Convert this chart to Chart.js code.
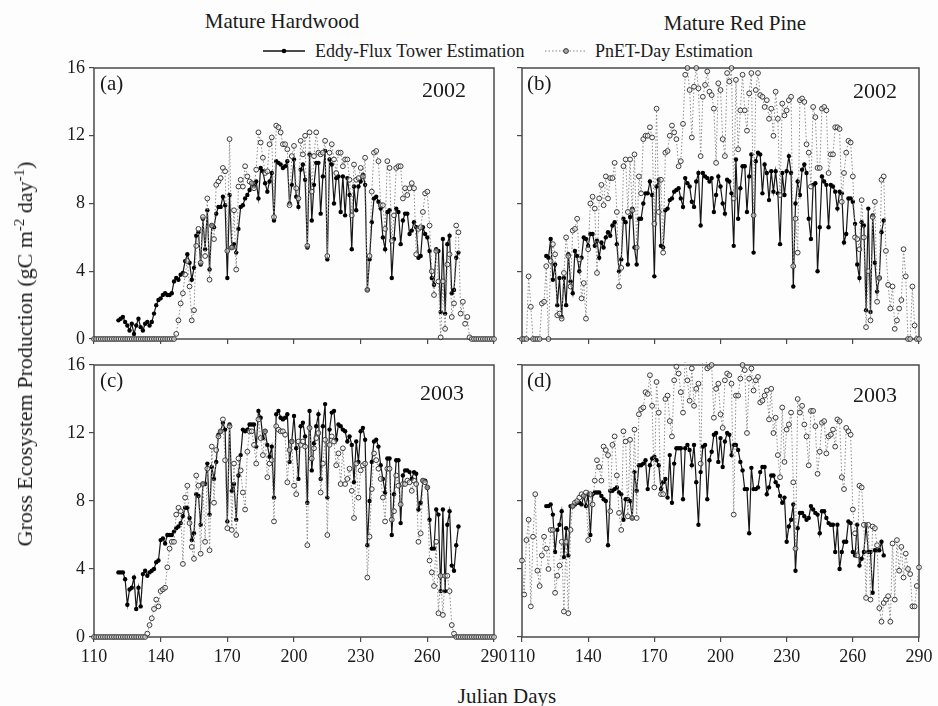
<!DOCTYPE html>
<html><head><meta charset="utf-8">
<script src="https://cdn.jsdelivr.net/npm/chart.js@4/dist/chart.umd.min.js"></script>
<style>
html,body{margin:0;padding:0;background:#fdfdfd;width:938px;height:706px;overflow:hidden;font-family:"Liberation Serif","Times New Roman",serif;color:#1a1a1a;}
canvas{position:absolute;}
.t{position:absolute;white-space:nowrap;line-height:1;}
sup{font-size:0.68em;vertical-align:0.55em;line-height:0;}
</style></head><body>
<div class="t" style="left:282px;top:11px;font-size:21px;transform:translateX(-50%)">Mature Hardwood</div>
<div class="t" style="left:735px;top:13px;font-size:21px;transform:translateX(-50%)">Mature Red Pine</div>
<svg style="position:absolute;left:258px;top:44px" width="52" height="14"><line x1="5" y1="7" x2="47" y2="7" stroke="#111" stroke-width="1.3"/><circle cx="26" cy="7" r="2.3" fill="#000"/></svg>
<div class="t" style="left:315px;top:42px;font-size:18px">Eddy-Flux Tower Estimation</div>
<svg style="position:absolute;left:540px;top:44px" width="52" height="14"><line x1="5" y1="7" x2="47" y2="7" stroke="#888" stroke-width="1" stroke-dasharray="1.5 2"/><circle cx="26" cy="7" r="2.4" fill="#aaa" stroke="#333" stroke-width="1"/></svg>
<div class="t" style="left:595px;top:42px;font-size:18px">PnET-Day Estimation</div>

<canvas id="ca" width="508" height="297" style="left:0;top:55px"></canvas>
<canvas id="cb" width="430" height="297" style="left:508px;top:55px"></canvas>
<canvas id="cc" width="508" height="325" style="left:0;top:352px"></canvas>
<canvas id="cd" width="430" height="325" style="left:508px;top:352px"></canvas>

<div class="t" style="left:100px;top:73px;font-size:21px">(a)</div>
<div class="t" style="left:422px;top:79px;font-size:22px">2002</div>
<div class="t" style="left:527px;top:73px;font-size:21px">(b)</div>
<div class="t" style="left:853px;top:80px;font-size:22px">2002</div>
<div class="t" style="left:100px;top:370px;font-size:21px">(c)</div>
<div class="t" style="left:420px;top:382px;font-size:22px">2003</div>
<div class="t" style="left:527px;top:370px;font-size:21px">(d)</div>
<div class="t" style="left:853px;top:384px;font-size:22px">2003</div>

<div class="t" style="left:25px;top:354px;font-size:22px;transform:translate(-50%,-50%) rotate(-90deg)">Gross Ecosystem Production (gC m<sup>-2</sup> day<sup>-1</sup>)</div>
<div class="t" style="left:507px;top:686px;font-size:21px;transform:translateX(-50%)">Julian Days</div>

<script>
const PNET_START = 110;
const EDDY_START = 121;
const xTicks = [110, 140, 170, 200, 230, 260, 290];
const yTicks = [0, 4, 8, 12, 16];

// (a) Mature Hardwood 2002
const eddyA = [
1.1,1.2,1.3,1.0,0.8,0.5,0.9,0.3,0.8,1.2,0.7,0.5,0.9,1.0,0.8,
1.0,1.5,2.0,2.3,2.4,2.6,2.7,2.6,2.6,2.7,3.4,3.6,3.5,3.8,3.9,
4.6,5.0,4.5,3.5,4.2,6.1,6.3,4.4,7.1,5.3,7.6,4.1,6.7,6.6,7.4,
7.8,7.8,8.4,7.9,3.6,8.5,5.4,5.6,5.1,6.5,7.8,7.9,8.3,8.5,8.8,
9.2,9.0,9.3,8.3,10.1,9.9,9.2,8.7,9.3,
9.8,7.0,10.5,10.4,10.3,10.1,10.2,10.5,8.0,9.1,10.6,8.4,7.8,10.0,10.3,
9.4,5.4,10.9,7.0,9.1,10.4,10.4,7.4,9.6,11.1,4.7,
10.6,10.3,8.0,9.5,9.6,7.5,9.6,7.3,9.5,8.5,5.3,9.0,7.6,9.0,9.3,9.7,9.1,
2.9,
4.7,6.9,8.3,8.4,8.1,7.7,6.0,5.3,7.5,7.6,3.6,5.9,7.7,7.5,5.6,7.0,
7.4,7.4,6.2,6.4,6.9,6.6,4.8,4.9,6.6,6.2,6.0,5.2,3.6,3.2,5.3,5.2,
1.6,5.9,1.5,5.6,6.1,2.7,2.9,4.8,5.1];
const pnetA = [
0,0,0,0,0,0,0,0,0,0,0,0,0,0,0,0,0,0,0,0,0,0,0,0,0,0,0,0,0,0,0,0,0,0,0,0,0,
0.3,1.1,2.1,2.7,3.8,4.6,3.1,1.1,1.7,5.5,6.5,4.5,7.2,4.9,8.3,
3.5,6.7,5.9,9.1,9.3,9.5,10.1,9.9,5.2,11.8,5.4,7.6,4.1,9.0,9.4,
9.0,10.2,9.6,9.3,9.2,8.9,10.0,12.2,11.6,10.7,9.8,9.9,11.5,11.9,7.2,
12.6,12.5,12.2,11.5,11.5,11.2,7.9,10.8,11.4,8.9,8.3,11.7,10.9,12.0,5.5,
12.2,8.7,10.8,12.2,11.0,10.9,11.0,11.7,4.9,11.0,11.5,10.6,9.8,11.0,11.0,
10.2,10.6,10.6,9.4,7.3,10.3,9.4,9.5,10.1,9.6,10.7,2.9,4.9,8.7,11.0,
11.1,10.5,7.9,7.9,6.5,10.5,10.1,5.8,7.3,10.1,10.2,10.2,8.3,8.9,8.5,
8.9,9.2,8.9,5.0,6.5,6.6,7.5,8.6,8.7,6.7,4.0,2.6,5.2,3.4,0.1,
3.4,0.6,4.4,5.0,1.3,2.1,6.7,6.3,1.5,2.2,0.9,1.3,0.1,
0,0,0,0,0,0,0,0,0,0,0];

// (b) Mature Red Pine 2002
const eddyB = [
4.9,4.8,5.9,3.5,4.4,2.0,3.6,1.3,3.6,2.0,5.0,3.4,2.7,5.2,4.9,
4.0,4.8,6.0,5.9,5.5,6.2,6.2,5.5,5.8,4.8,5.7,5.4,6.0,6.3,6.1,
6.7,6.9,5.6,4.0,4.7,7.1,6.9,4.4,7.2,7.7,5.4,4.4,7.1,7.1,8.0,
8.6,8.6,9.3,8.5,3.7,9.0,9.4,5.5,5.4,7.6,7.7,8.2,8.3,8.7,8.8,
8.9,8.3,7.8,9.5,9.2,9.0,8.1,7.8,9.3,9.8,6.7,9.8,9.6,9.5,9.3,
9.5,7.5,8.5,9.6,9.0,8.0,7.4,9.4,9.3,8.6,5.5,10.6,7.1,8.9,10.2,
10.2,7.5,9.6,10.9,5.1,10.5,11.0,10.9,8.6,10.3,9.8,8.2,9.9,8.7,9.9,
8.6,5.6,9.8,8.5,9.9,10.8,9.8,3.1,8.0,9.3,8.5,10.0,10.3,9.8,7.1,
5.9,9.1,9.2,4.0,6.6,9.6,9.3,9.1,6.6,9.1,9.0,8.7,7.7,8.7,8.6,
5.7,6.2,8.3,8.3,8.1,6.8,4.4,3.6,6.9,6.7,1.7,7.7,1.6,7.3,4.5,
2.8,3.6,6.3,7.0];
const pnetB = [
0,0,0,3.7,1.9,0,0,0,0,2.1,
2.2,4.3,0,4.6,5.6,5.0,1.4,1.5,1.2,3.9,
6.0,4.9,3.1,6.4,6.5,7.1,4.7,2.4,3.3,1.2,
5.3,8.0,8.4,7.7,3.9,8.3,9.1,7.9,9.6,8.3,
9.5,9.5,10.4,7.5,3.1,4.2,10.2,10.6,7.5,10.6,
7.6,10.9,5.4,9.6,8.6,11.8,12.0,12.0,12.5,11.9,
6.8,13.6,7.5,9.4,5.1,11.0,11.1,12.0,12.6,12.2,
11.8,10.2,10.5,12.7,15.6,16.0,14.7,11.9,14.9,16.0,
14.8,10.8,14.3,15.0,15.8,14.6,14.4,13.6,10.4,15.1,
14.7,11.8,10.8,15.7,15.2,16.0,8.3,15.3,11.2,13.5,
15.6,13.5,12.3,14.5,15.7,7.3,14.7,15.7,14.4,14.3,
13.7,14.1,13.0,13.6,12.0,14.6,13.0,8.5,13.9,13.2,
13.5,14.1,14.3,4.3,7.1,5.1,14.1,14.2,14.0,11.5,
11.0,9.0,13.7,13.1,10.1,10.1,13.6,13.7,13.5,9.8,
10.9,10.9,12.5,12.5,12.4,8.1,9.8,11.0,11.7,11.6,
9.6,6.0,5.9,5.3,8.2,6.0,0.7,4.0,1.1,7.2,
8.1,2.2,3.6,9.4,9.6,5.2,3.2,1.8,3.1,0.6,
1.1,1.8,2.3,5.3,3.7,0,0,3.1,0.8,0,0];

// (c) Mature Hardwood 2003
const eddyC = [
3.8,3.8,3.8,3.4,1.9,2.8,2.9,3.5,1.65,2.9,
1.8,3.7,3.9,3.6,3.8,3.9,4.0,4.4,4.5,5.7,
5.8,5.5,6.0,6.0,6.0,6.2,6.4,6.5,6.7,7.1,
7.6,7.6,7.0,5.7,6.1,8.4,8.3,6.6,9.0,9.0,
10.2,7.2,10.0,9.3,10.3,11.9,12.1,12.6,12.2,6.8,
12.5,8.6,9.0,6.9,9.5,10.7,12.2,12.1,12.2,12.5,
12.5,12.5,11.2,13.3,12.9,11.7,12.1,11.3,10.6,11.2,
8.2,13.1,13.3,12.9,12.8,12.9,13.1,10.3,11.5,13.0,
11.1,9.3,12.4,12.6,11.8,7.9,13.3,9.8,11.4,12.4,
13.1,9.3,12.4,13.7,8.2,12.2,13.2,13.3,11.6,12.5,
12.4,12.2,12.1,11.5,11.8,11.3,9.1,11.5,10.3,12.1,
12.3,11.6,5.4,8.0,10.3,11.5,11.6,11.2,10.1,9.3,
8.5,10.5,10.5,6.0,8.4,10.4,10.4,6.7,9.5,9.8,
9.8,9.7,9.3,9.7,9.6,7.5,7.9,9.2,9.2,8.8,
6.9,5.2,5.2,7.5,7.2,2.7,7.5,2.7,6.6,7.4,
4.2,3.9,5.4,6.5];
const pnetC = [
0,0,0,0,0,0,0,0,0,0,0,0,0,0,0,0,0,0,0,0,0,0,0,0,
0.2,0.7,1.1,1.65,2.2,1.8,2.7,2.8,2.9,4.1,
5.2,5.6,5.6,7.2,7.6,7.4,4.3,8.2,8.9,6.7,
5.3,4.6,9.5,8.9,4.9,9.0,5.6,9.9,5.1,11.2,
7.9,11.0,11.8,12.1,12.8,10.4,6.4,12.4,6.3,10.2,
6.0,10.5,9.8,8.5,7.5,10.9,12.1,12.1,11.3,10.2,
12.8,11.7,10.7,12.1,9.4,10.2,10.4,6.8,
12.4,12.2,12.1,12.1,11.9,9.1,11.0,11.5,8.9,8.4,11.5,11.3,11.5,11.2,
5.4,12.3,10.5,11.1,11.7,12.0,8.5,10.2,11.6,6.0,
11.3,11.8,11.5,10.1,10.8,9.0,11.1,9.0,9.3,9.9,
8.6,7.0,10.2,8.2,9.8,10.1,10.2,3.5,5.9,8.7,
10.8,10.4,9.9,9.3,8.2,6.8,9.9,9.9,6.9,7.4,
9.5,8.9,7.8,9.0,9.0,9.2,9.1,8.6,9.2,9.0,
5.6,6.1,9.2,9.1,8.8,4.5,3.8,3.0,5.6,1.4,
3.6,1.3,3.6,3.6,2.7,0.7,0.2,
0,0,0,0,0,0,0,0,0,0,0,0,0,0,0,0,0,0];

// (d) Mature Red Pine 2003
const eddyD = [
7.7,7.7,7.8,7.2,5.0,6.3,6.6,7.4,4.7,6.4,
4.8,7.7,7.7,7.8,7.9,7.9,7.8,8.3,7.7,8.4,
6.0,8.4,8.5,8.5,8.5,8.3,8.1,8.0,5.4,8.6,
8.6,8.7,8.8,8.5,8.4,6.9,8.1,8.1,8.0,7.0,
9.7,8.6,10.1,10.1,10.2,10.4,8.7,10.1,10.5,10.6,
10.4,10.1,8.7,9.1,9.3,8.2,10.7,7.9,10.2,11.1,
11.1,11.1,8.1,11.1,11.3,11.0,10.1,11.3,9.1,6.6,
9.7,11.2,11.3,8.1,10.4,10.9,11.9,12.0,10.3,11.7,
10.0,11.5,12.0,11.9,10.7,11.3,11.3,11.0,10.3,9.8,
8.7,8.7,6.1,9.95,8.7,8.7,8.8,9.7,10.0,10.0,
8.4,8.8,9.5,9.5,9.1,8.9,8.3,7.9,8.2,5.6,
6.5,6.9,7.8,3.9,6.4,7.3,7.3,7.1,6.9,7.0,
7.7,7.5,7.3,7.2,6.1,7.4,7.4,7.0,6.7,6.6,
6.6,5.0,6.6,4.0,5.0,5.6,5.6,6.8,6.7,5.0,
4.8,6.6,4.2,4.6,5.0,6.6,5.0,5.0,2.6,5.1,
5.1,5.1,5.6,4.8];
const pnetD = [
4.5,2.5,5.7,6.9,1.8,5.9,8.4,3.9,3.0,4.8,
5.9,5.2,4.0,6.3,6.3,2.6,3.6,4.2,5.6,1.5,
5.6,1.4,6.3,7.7,7.9,8.0,8.2,8.4,8.3,8.5,
5.7,8.4,7.8,9.2,10.4,10.0,9.2,11.2,11.0,10.7,
7.4,11.3,11.8,9.5,7.3,6.3,12.1,11.5,7.1,11.6,
7.0,12.2,7.0,13.1,13.4,13.5,14.4,14.3,15.4,13.6,
8.8,15.0,13.2,8.4,8.4,14.0,14.2,12.7,11.8,15.1,
15.9,15.5,14.4,13.2,16.5,15.1,13.9,15.8,13.6,14.6,
14.9,10.2,16.8,16.6,15.8,15.9,16.0,12.9,14.6,14.9,
13.1,12.3,15.1,15.5,15.4,14.9,7.2,14.2,14.2,15.2,
16.0,15.7,12.0,15.2,15.8,14.5,15.1,15.3,13.8,13.9,
14.2,14.5,12.8,14.6,12.0,12.9,10.7,9.4,13.5,10.3,
12.2,12.5,13.2,9.1,5.2,14.0,13.2,13.6,12.5,11.8,
10.1,13.3,13.3,12.4,9.6,10.9,12.6,12.7,10.8,11.8,
11.9,12.2,11.2,12.8,12.7,9.4,8.7,12.3,12.1,11.9,
7.5,6.1,4.8,8.9,8.8,6.6,2.3,6.6,2.2,6.5,
6.4,5.4,1.7,0.9,2.0,2.2,2.4,0.9,5.5,2.2,5.7,3.9,5.3,3.5,4.9,4.0,3.7,1.8,1.8,3.0,4.1];

const FONT = '"Liberation Serif", "Times New Roman", serif';
const AXIS = '#4a4a4a';

const framePlugin = {
  id: 'frame',
  beforeDatasetsDraw(chart) {
    const {ctx, chartArea: a} = chart;
    ctx.save();
    ctx.strokeStyle = AXIS;
    ctx.lineWidth = 1.5;
    ctx.strokeRect(a.left, a.top, a.right - a.left, a.bottom - a.top);
    ctx.restore();
  }
};

function toPoints(start, arr) { return arr.map((v, i) => ({x: start + i, y: v})); }

function panel(id, eddy, pnet, cfg) {
  new Chart(document.getElementById(id), {
    type: 'line',
    data: { datasets: [
      { label: 'PnET-Day Estimation', data: toPoints(PNET_START, pnet),
        borderColor: '#8c8c8c', borderWidth: 1, borderDash: [1.5, 2],
        pointRadius: 2.4, pointBorderWidth: 1, pointBorderColor: '#3a3a3a',
        pointBackgroundColor: 'rgba(255,255,255,0.5)', order: 0, clip: 3 },
      { label: 'Eddy-Flux Tower Estimation', data: toPoints(EDDY_START, eddy),
        borderColor: '#151515', borderWidth: 1.2,
        pointRadius: 2.2, pointBorderWidth: 0, pointBackgroundColor: '#000',
        pointBorderColor: '#000', order: 1, clip: 3 }
    ]},
    options: {
      responsive: false, animation: false, devicePixelRatio: 1,
      layout: { padding: cfg.pad },
      plugins: { legend: {display: false}, tooltip: {enabled: false} },
      elements: { line: { tension: 0 } },
      scales: {
        x: { type: 'linear', min: 110, max: 290,
          border: {display: false},
          grid: {drawOnChartArea: false, drawTicks: true, tickLength: 5, color: AXIS, lineWidth: 1.2},
          afterBuildTicks: s => { s.ticks = xTicks.map(v => ({value: v})); },
          ticks: {autoSkip: false, maxRotation: 0, minRotation: 0, padding: 0, color: '#1a1a1a',
            font: {family: FONT, size: 18, lineHeight: 1.67},
            callback: v => cfg.xLabels ? String(v) : ''},
          afterFit: s => { s.height = cfg.xh; } },
        y: { min: 0, max: 16,
          border: {display: false},
          grid: {drawOnChartArea: false, drawTicks: true, tickLength: 5, color: AXIS, lineWidth: 1.2},
          afterBuildTicks: s => { s.ticks = yTicks.map(v => ({value: v})); },
          ticks: {padding: 4, color: '#1a1a1a', font: {family: FONT, size: 18, lineHeight: 1},
            callback: v => cfg.yLabels ? String(v) : ''},
          afterFit: s => { s.width = cfg.yw; } }
      }
    },
    plugins: [framePlugin]
  });
}

panel('ca', eddyA, pnetA, {pad: {top: 12, left: 0, right: 14, bottom: 0}, yw: 94, xh: 10, xLabels: false, yLabels: true});
panel('cb', eddyB, pnetB, {pad: {top: 12, left: 0, right: 19, bottom: 0}, yw: 14, xh: 10, xLabels: false, yLabels: false});
panel('cc', eddyC, pnetC, {pad: {top: 10, left: 0, right: 14, bottom: 0}, yw: 94, xh: 40, xLabels: true, yLabels: true});
panel('cd', eddyD, pnetD, {pad: {top: 10, left: 0, right: 19, bottom: 0}, yw: 14, xh: 40, xLabels: true, yLabels: false});
</script>
</body></html>
